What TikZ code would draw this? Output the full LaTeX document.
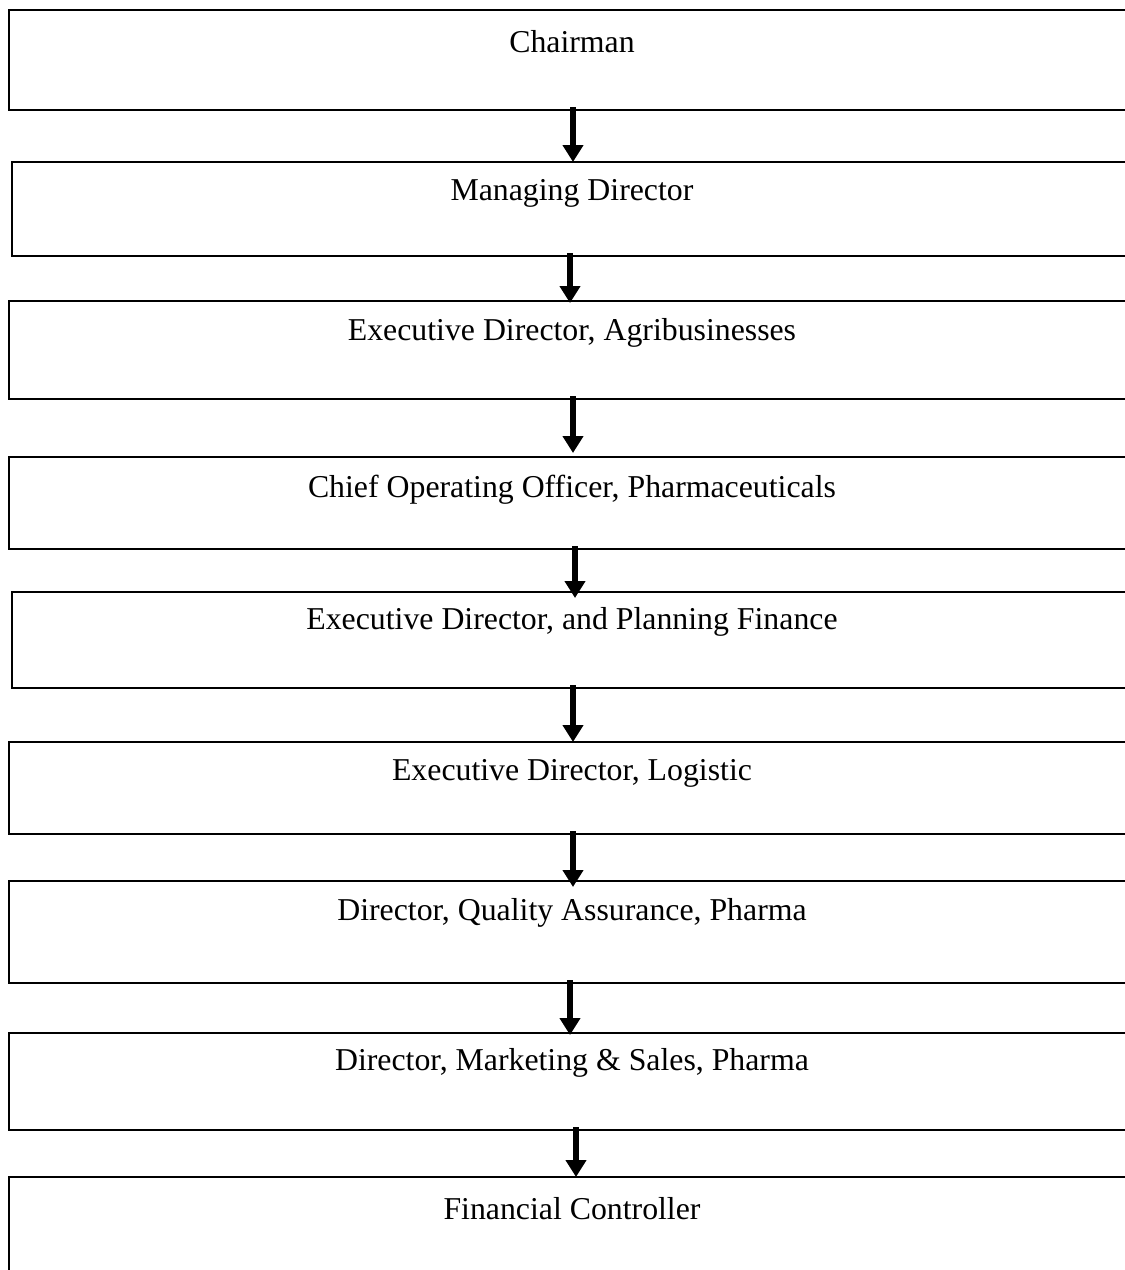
\documentclass[tikz,border=0pt]{standalone}
\usepackage{fontspec}
\setmainfont{Liberation Serif}
\usetikzlibrary{arrows.meta}
\begin{document}
\begin{tikzpicture}[x=0.5pt,y=-0.5pt,
  orgbox/.style={draw=black, line width=1pt, fill=none, anchor=north west,
    inner sep=0pt, outer sep=0pt, minimum width={(1136-#1)*0.5pt}},
  orgbox/.default=9,
  lbl/.style={font=\fontsize{15.9}{19}\selectfont, inner sep=0pt, anchor=center},
  down/.style={line width=3pt, -{Triangle[width=10pt,length=8.5pt]}, shorten <=-1.5pt}
]
\useasboundingbox (0,0) rectangle (1125,1270);
\clip (0,0) rectangle (1125,1270);

% boxes of the chain of command
\node[orgbox=9,  minimum height=50pt]   (b1) at (9,10)   {};
\node[orgbox=12, minimum height=47pt]   (b2) at (12,162) {};
\node[orgbox=9,  minimum height=49pt]   (b3) at (9,301)  {};
\node[orgbox=9,  minimum height=46pt]   (b4) at (9,457)  {};
\node[orgbox=12, minimum height=48pt]   (b5) at (12,592) {};
\node[orgbox=9,  minimum height=46pt]   (b6) at (9,742)  {};
\node[orgbox=9,  minimum height=51pt]   (b7) at (9,881)  {};
\node[orgbox=9,  minimum height=48.5pt] (b8) at (9,1033) {};
\node[orgbox=9,  minimum height=60pt]   (b9) at (9,1177) {};

% titles
\node[lbl] (t1) at (572,42)   {Chairman};
\node[lbl] (t2) at (572,193)  {Managing Director};
\node[lbl] (t3) at (572,333)  {Executive Director, Agribusinesses};
\node[lbl] (t4) at (572,490)  {Chief Operating Officer, Pharmaceuticals};
\node[lbl] (t5) at (572,622)  {Executive Director, and Planning Finance};
\node[lbl] (t6) at (572,773)  {Executive Director, Logistic};
\node[lbl] (t7) at (572,913)  {Director, Quality Assurance, Pharma};
\node[lbl] (t8) at (572,1063) {Director, Marketing \& Sales, Pharma};
\node[lbl] (t9) at (572,1209) {Financial Controller};

% horizontal positions of the reporting arrows
\coordinate (a1) at (573,0);
\coordinate (a2) at (570,0);
\coordinate (a3) at (573,0);
\coordinate (a4) at (575,0);
\coordinate (a5) at (573,0);
\coordinate (a6) at (573,0);
\coordinate (a7) at (570,0);
\coordinate (a8) at (576,0);

% reporting arrows
\draw[down] (b1.south -| a1) -- (b2.north -| a1);
\draw[down] (b2.south -| a2) -- ([yshift=-1pt]b3.north -| a2);
\draw[down] (b3.south -| a3) -- ([yshift=2pt]b4.north -| a3);
\draw[down] (b4.south -| a4) -- ([yshift=-3pt]b5.north -| a4);
\draw[down] (b5.south -| a5) -- (b6.north -| a5);
\draw[down] (b6.south -| a6) -- ([yshift=-3pt]b7.north -| a6);
\draw[down] (b7.south -| a7) -- ([yshift=-1pt]b8.north -| a7);
\draw[down] (b8.south -| a8) -- (b9.north -| a8);
\end{tikzpicture}
\end{document}
